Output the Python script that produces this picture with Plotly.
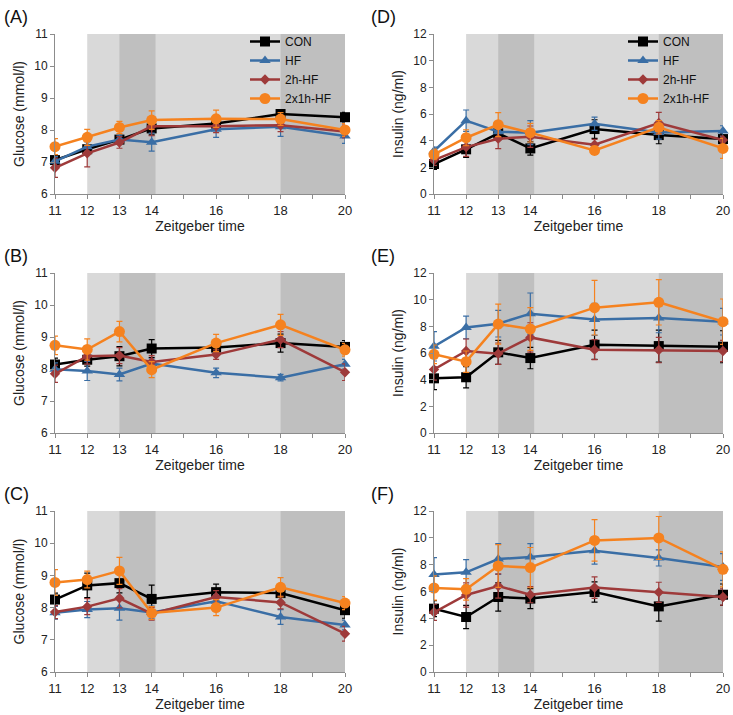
import plotly.graph_objects as go

hours = [11, 12, 13, 14, 16, 18, 20]
tick_vals = [11, 12, 13, 14, 15, 16, 17, 18, 19, 20]
tick_text = ["11", "12", "13", "14", "", "16", "", "18", "", "20"]

series_names = ["CON", "HF", "2h-HF", "2x1h-HF"]
colors = ["#000000", "#3a6ea5", "#9e3a3a", "#f5821f"]
symbols = ["square", "triangle-up", "diamond", "circle"]
msizes = [10, 10, 8, 11]

# Panel A glucose
A_vals = [[7.06, 7.40, 7.70, 8.05, 8.20, 8.50, 8.40],
          [7.02, 7.48, 7.70, 7.62, 8.02, 8.10, 7.81],
          [6.82, 7.27, 7.61, 8.12, 8.12, 8.15, 7.95],
          [7.48, 7.77, 8.08, 8.31, 8.35, 8.34, 8.00]]
A_err = [[0.12, 0.10, 0.12, 0.20, 0.15, 0.10, 0.15],
         [0.15, 0.15, 0.12, 0.28, 0.25, 0.30, 0.23],
         [0.30, 0.42, 0.18, 0.30, 0.20, 0.20, 0.20],
         [0.25, 0.25, 0.19, 0.29, 0.27, 0.20, 0.20]]
# Panel B glucose
B_vals = [[8.14, 8.29, 8.40, 8.64, 8.67, 8.81, 8.69],
          [7.99, 7.94, 7.83, 8.17, 7.88, 7.73, 8.15],
          [7.85, 8.40, 8.42, 8.22, 8.45, 8.92, 7.90],
          [8.74, 8.61, 9.17, 7.98, 8.81, 9.38, 8.60]]
B_err = [[0.20, 0.20, 0.30, 0.28, 0.20, 0.28, 0.20],
         [0.20, 0.30, 0.20, 0.15, 0.15, 0.10, 0.15],
         [0.27, 0.25, 0.25, 0.20, 0.15, 0.25, 0.26],
         [0.29, 0.33, 0.32, 0.25, 0.27, 0.33, 0.20]]
# Panel C glucose
C_vals = [[8.25, 8.69, 8.76, 8.27, 8.48, 8.45, 7.92],
          [7.84, 7.94, 7.98, 7.85, 8.20, 7.71, 7.46],
          [7.86, 8.03, 8.29, 7.81, 8.33, 8.16, 7.19],
          [8.78, 8.87, 9.14, 7.83, 8.00, 8.63, 8.14]]
C_err = [[0.20, 0.38, 0.30, 0.43, 0.25, 0.25, 0.25],
         [0.20, 0.25, 0.37, 0.20, 0.20, 0.23, 0.15],
         [0.20, 0.25, 0.30, 0.20, 0.20, 0.20, 0.23],
         [0.40, 0.26, 0.42, 0.20, 0.25, 0.30, 0.20]]
# Panel D insulin
D_vals = [[2.25, 3.35, 4.55, 3.42, 4.87, 4.42, 4.12],
          [3.22, 5.50, 4.67, 4.60, 5.27, 4.62, 4.72],
          [2.55, 3.52, 4.15, 4.30, 3.70, 5.32, 4.05],
          [2.97, 4.22, 5.20, 4.60, 3.27, 5.00, 3.42]]
D_err = [[0.40, 0.60, 0.50, 0.50, 0.70, 0.65, 0.40],
         [0.30, 0.80, 0.60, 0.90, 0.50, 0.50, 0.40],
         [0.40, 0.70, 0.75, 0.80, 0.40, 0.80, 0.30],
         [0.40, 0.60, 0.90, 0.70, 0.30, 0.50, 0.75]]
# Panel E insulin
E_vals = [[4.10, 4.18, 6.05, 5.62, 6.62, 6.52, 6.47],
          [6.50, 7.92, 8.20, 8.95, 8.52, 8.62, 8.35],
          [4.77, 6.15, 5.95, 7.17, 6.25, 6.22, 6.15],
          [5.90, 5.35, 8.17, 7.80, 9.40, 9.80, 8.35]]
E_err = [[0.85, 0.80, 0.90, 0.80, 1.10, 1.20, 1.20],
         [1.10, 0.85, 1.00, 1.55, 1.20, 1.10, 1.00],
         [0.80, 0.90, 0.80, 1.10, 0.75, 0.95, 0.80],
         [0.70, 0.80, 1.50, 1.60, 2.05, 1.70, 1.70]]
# Panel F insulin
F_vals = [[4.72, 4.10, 5.59, 5.47, 5.96, 4.89, 5.76],
          [7.26, 7.43, 8.42, 8.57, 9.04, 8.50, 7.83],
          [4.45, 5.74, 6.41, 5.76, 6.29, 5.94, 5.59],
          [6.26, 6.16, 7.90, 7.78, 9.81, 9.99, 7.65]]
F_err = [[0.60, 0.87, 1.05, 0.75, 0.75, 1.10, 0.80],
         [1.27, 0.95, 1.15, 1.00, 1.00, 0.60, 1.00],
         [0.60, 0.90, 0.90, 0.60, 0.80, 0.75, 0.60],
         [0.90, 0.80, 1.60, 1.50, 1.54, 1.60, 1.30]]

panels = [
    ("(A)", A_vals, A_err, "Glucose (mmol/l)", [6, 11], 1),
    ("(D)", D_vals, D_err, "Insulin (ng/ml)", [0, 12], 2),
    ("(B)", B_vals, B_err, "Glucose (mmol/l)", [6, 11], 1),
    ("(E)", E_vals, E_err, "Insulin (ng/ml)", [0, 12], 2),
    ("(C)", C_vals, C_err, "Glucose (mmol/l)", [6, 11], 1),
    ("(F)", F_vals, F_err, "Insulin (ng/ml)", [0, 12], 2),
]

W, H = 733, 715
xdoms = [[55 / W, 345 / W], [434 / W, 723 / W]]
ytops = [34, 273, 511]
ybots = [194, 433, 672]
ydoms = [[1 - b / H, 1 - t / H] for t, b in zip(ytops, ybots)]

light = "#d9d9d9"
dark = "#bfbfbf"
axcol = "#8c8c8c"
font = "Liberation Sans, Arial, Helvetica, sans-serif"

fig = go.Figure()
shapes = []
annotations = []
layout = {}

for i, (lab, vals, errs, ytitle, yr, dt) in enumerate(panels):
    row, col = i // 2, i % 2
    n = i + 1
    xa = "x" if n == 1 else f"x{n}"
    ya = "y" if n == 1 else f"y{n}"
    xk = "xaxis" if n == 1 else f"xaxis{n}"
    yk = "yaxis" if n == 1 else f"yaxis{n}"
    for s in range(4):
        fig.add_trace(go.Scatter(
            x=hours, y=vals[s], xaxis=xa, yaxis=ya,
            mode="lines+markers", name=series_names[s],
            showlegend=(n in (1, 2)),
            legend=("legend" if n == 1 else "legend2"),
            line=dict(color=colors[s], width=2.5),
            marker=dict(symbol=symbols[s], size=msizes[s], color=colors[s]),
            error_y=dict(type="data", array=errs[s], color=colors[s], thickness=1.2, width=3),
            cliponaxis=False,
        ))
    layout[xk] = dict(domain=xdoms[col], anchor=ya, range=[11, 20], automargin=False,
                      tickmode="array", tickvals=tick_vals, ticktext=tick_text,
                      ticks="outside", ticklen=4, tickcolor=axcol,
                      showline=True, linecolor=axcol, linewidth=1,
                      showgrid=False, zeroline=False,
                      tickfont=dict(size=13, color="#222"),
                      title=dict(text="Zeitgeber time", font=dict(size=14, color="#222"), standoff=4))
    layout[yk] = dict(domain=ydoms[row], anchor=xa, range=yr, dtick=dt, automargin=False,
                      ticks="outside", ticklen=4, tickcolor=axcol,
                      showline=True, linecolor=axcol, linewidth=1,
                      showgrid=False, zeroline=False,
                      tickfont=dict(size=12, color="#222"),
                      title=dict(text=ytitle, font=dict(size=14, color="#222"), standoff=6))
    for (x0, x1, c) in [(12, 20, light), (13, 14.12, dark), (18, 20, dark)]:
        shapes.append(dict(type="rect", xref=xa, yref=f"{ya} domain", x0=x0, x1=x1, y0=0, y1=1,
                           fillcolor=c, line=dict(width=0), layer="below"))
    annotations.append(dict(text=lab, xref="paper", yref="paper",
                            x=(2 if col == 0 else 369) / W, y=1 - (ytops[row] - 17) / H,
                            xanchor="left", yanchor="middle", showarrow=False,
                            font=dict(size=18, color="#111")))

leg_common = dict(xanchor="left", yanchor="top", bgcolor="rgba(0,0,0,0)",
                  font=dict(size=12, color="#111"), tracegroupgap=0, itemwidth=30)

fig.update_layout(
    width=W, height=H, margin=dict(l=0, r=0, t=0, b=0, autoexpand=False),
    plot_bgcolor="white", paper_bgcolor="white",
    font=dict(family=font, color="#222"),
    shapes=shapes, annotations=annotations,
    legend=dict(x=245 / W, y=1 - 27 / H, **leg_common),
    legend2=dict(x=623 / W, y=1 - 27 / H, **leg_common),
    **layout,
)

fig.write_html("out.html", config={"displayModeBar": False},
               post_script="document.body.style.margin='0';document.body.style.overflow='hidden';")
